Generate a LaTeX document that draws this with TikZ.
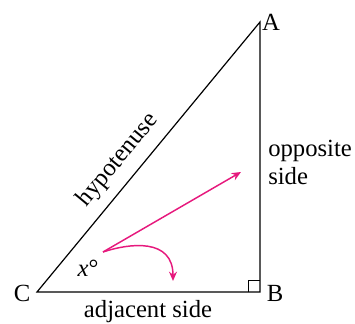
\documentclass[tikz,border=0pt]{standalone}
\usepackage{fontspec}
\setmainfont{Liberation Serif}
\usetikzlibrary{arrows.meta}
\definecolor{pinkarrow}{HTML}{E6197D}
\begin{document}
\begin{tikzpicture}[x=0.75pt,y=-0.75pt,
  side/.style={line width=0.9pt,black},
  lbl/.style={font=\fontsize{18.5}{21}\selectfont,inner sep=0pt},
  parrow/.style={pinkarrow,line width=1.1pt,-{Stealth[length=7pt,width=6pt]}}]
\useasboundingbox (0,0) rectangle (355,324);
\coordinate (C) at (37,292);
\coordinate (B) at (260,292);
\coordinate (A) at (260,22);
\draw[side] (C) -- (B) -- (A) -- cycle;
\draw[line width=0.6pt] (248,292) -- (248,280) -- (260,280);
\node[lbl] (lA) at (271,22) {A};
\node[lbl] (lB) at (275,293) {B};
\node[lbl] (lC) at (22,293) {C};
\node[lbl,rotate=50.4] (hyp) at (118,160) {hypotenuse};
\node[lbl,align=left,anchor=west] (opp) at (268,162) {opposite\\side};
\node[lbl] (adj) at (148,312) {adjacent side};
\node[lbl] (xdeg) at (88,268) {\textit{x}°};
\coordinate (S) at (103,252);
\coordinate (E1) at (241,172);
\coordinate (E2) at (173,281);
\draw[parrow] (S) -- (E1);
\draw[parrow] (S) .. controls (130,243) and (173,238) .. (E2);
\end{tikzpicture}
\end{document}
